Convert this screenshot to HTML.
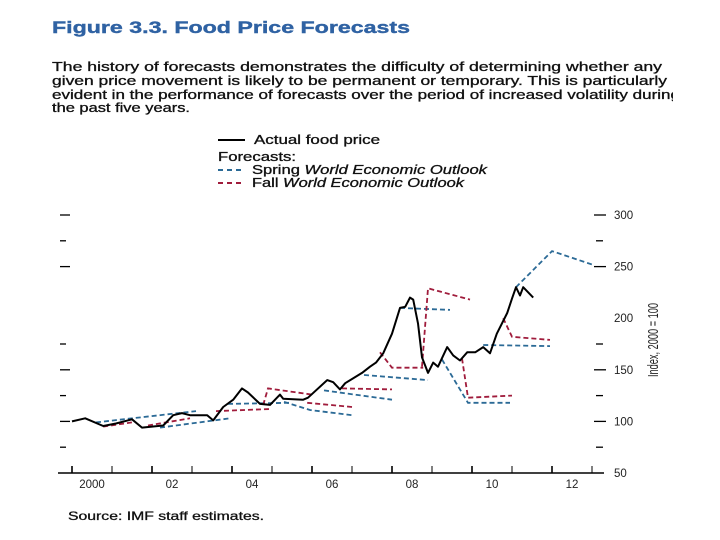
<!DOCTYPE html>
<html><head><meta charset="utf-8"><style>
html,body{margin:0;padding:0;background:#fff;width:720px;height:540px;overflow:hidden}
svg{display:block;font-family:"Liberation Sans",sans-serif}
</style></head><body>
<svg id="c" width="720" height="540">
<defs><clipPath id="clipTxt"><rect x="0" y="0" width="673" height="540"/></clipPath></defs>
<text x="52" y="33" font-size="17" font-weight="bold" fill="#2f62a3" stroke="#2f62a3" stroke-width="0.4" textLength="358" lengthAdjust="spacingAndGlyphs">Figure 3.3.  Food Price Forecasts</text>
<g font-size="12.5" fill="#111" stroke="#111" stroke-width="0.3" clip-path="url(#clipTxt)">
<text x="52" y="71" textLength="610" lengthAdjust="spacingAndGlyphs">The history of forecasts demonstrates the difficulty of determining whether any</text>
<text x="52" y="85" textLength="615" lengthAdjust="spacingAndGlyphs">given price movement is likely to be permanent or temporary. This is particularly</text>
<text x="52" y="99" textLength="628" lengthAdjust="spacingAndGlyphs">evident in the performance of forecasts over the period of increased volatility during</text>
<text x="52" y="112" textLength="138" lengthAdjust="spacingAndGlyphs">the past five years.</text>
</g>
<g font-size="12.5" fill="#111">
<line x1="218" y1="140" x2="245" y2="140" stroke="#000" stroke-width="2"/>
<text x="254" y="144" stroke="#111" stroke-width="0.3" textLength="126" lengthAdjust="spacingAndGlyphs">Actual food price</text>
<text x="218" y="161" stroke="#111" stroke-width="0.3" textLength="78" lengthAdjust="spacingAndGlyphs">Forecasts:</text>
<line x1="218" y1="170" x2="245" y2="170" stroke="#2b6a96" stroke-width="2" stroke-dasharray="5,4"/>
<text x="252" y="174" stroke="#111" stroke-width="0.3" textLength="235" lengthAdjust="spacingAndGlyphs">Spring <tspan font-style="italic">World Economic Outlook</tspan></text>
<line x1="218" y1="183" x2="245" y2="183" stroke="#a01c3c" stroke-width="2" stroke-dasharray="5,4"/>
<text x="252" y="187" stroke="#111" stroke-width="0.3" textLength="212" lengthAdjust="spacingAndGlyphs">Fall <tspan font-style="italic">World Economic Outlook</tspan></text>
</g>
<g id="axes"></g>
<g id="series"></g>
<text transform="translate(658,340) rotate(-90)" text-anchor="middle" font-size="15" fill="#222" textLength="74" lengthAdjust="spacingAndGlyphs">Index, 2000 = 100</text>
<text x="68" y="520" font-size="12" fill="#111" stroke="#111" stroke-width="0.3" textLength="196" lengthAdjust="spacingAndGlyphs">Source: IMF staff estimates.</text>
</svg>
<script>
const yearLabels=["2000","02","04","06","08","10","12"];
const yTicks=[50,100,150,200,250,300];
const actual=[[2000.0,100],[2000.33,103],[2000.78,95.5],[2001.1,98],[2001.5,102],[2001.75,94],[2002.28,96],[2002.53,106],[2002.75,108],[2002.95,106],[2003.38,106],[2003.53,101],[2003.78,114],[2004.03,121],[2004.25,132],[2004.4,128],[2004.7,117],[2004.95,116],[2005.2,126],[2005.28,122],[2005.78,121],[2005.9,123],[2006.38,140],[2006.53,138],[2006.7,131],[2006.83,137],[2007.25,147],[2007.45,153],[2007.6,157],[2007.78,166],[2008.0,185],[2008.2,210],[2008.33,211],[2008.45,220],[2008.53,218],[2008.65,195],[2008.75,162],[2008.9,147],[2009.03,157],[2009.15,153],[2009.38,172],[2009.53,164],[2009.7,159],[2009.88,167],[2010.08,167],[2010.28,172],[2010.45,166],[2010.62,185],[2010.88,205],[2011.0,219],[2011.1,230],[2011.2,222],[2011.28,230],[2011.53,220]];
const springForecasts=[[[2000.6,99],[2003.1,110]],[[2002.2,94],[2003.95,103]],[[2003.9,117],[2005.45,118]],[[2005.3,119],[2005.95,111],[2007.0,106]],[[2006.3,130],[2008.0,121]],[[2007.3,145],[2008.9,140]],[[2008.2,210],[2009.45,208]],[[2009.25,160],[2009.9,118],[2010.95,118]],[[2010.28,174],[2011.95,173]],[[2011.1,230],[2012.0,265],[2013.0,252]]];
const fallForecasts=[[[2000.78,95],[2001.5,99]],[[2001.9,96],[2002.95,103]],[[2003.6,110],[2004.95,112]],[[2004.78,116],[2004.9,132],[2006.0,126]],[[2005.88,118],[2007.0,114]],[[2006.75,132],[2008.0,131]],[[2007.7,167],[2008.0,152],[2008.78,152]],[[2008.75,153],[2008.9,229],[2009.95,218]],[[2009.75,161],[2009.9,123],[2011.0,125]],[[2010.78,200],[2011.0,182],[2011.95,179]]];
const NS="http://www.w3.org/2000/svg";
const X=y=>72+40*(y-2000);
const Y=v=>473-(v-50)*1.032;
function mk(tag,attrs,parent){const e=document.createElementNS(NS,tag);for(const k in attrs)e.setAttribute(k,attrs[k]);parent.appendChild(e);return e;}
const ax=document.getElementById('axes');
const xl=mk('line',{x1:58,y1:473,x2:604,y2:473,stroke:'#000','stroke-width':1.5},ax);


for(let i=0;i<=13;i++){const t=mk('line',{x1:X(2000+i),y1:466,x2:X(2000+i),y2:473,stroke:'#000','stroke-width':i%2==0?1.6:1},ax);

}
yearLabels.forEach((s,i)=>{const t=mk('text',{x:X(2000+2*i)+20,y:488,'text-anchor':'middle','font-size':11.5,fill:'#222'},ax);t.textContent=s;

});
const leftMinor=[75,100,125,150,175,250,275,300];
leftMinor.forEach(v=>{const w=(v%50==0)?10:6;const t=mk('line',{x1:60,y1:Y(v),x2:60+w,y2:Y(v),stroke:'#000','stroke-width':1.3},ax);

});
const rightMinor=[75,125,175,275];
rightMinor.forEach(v=>{const t=mk('line',{x1:596,y1:Y(v),x2:603,y2:Y(v),stroke:'#000','stroke-width':1.3},ax);

});
yTicks.forEach(v=>{if(v!=200&&v!=50){const t=mk('line',{x1:594,y1:Y(v),x2:606,y2:Y(v),stroke:'#000','stroke-width':1.3},ax);

}
const l=mk('text',{x:614,y:Y(v)+4,'font-size':11.5,fill:'#222'},ax);l.textContent=String(v);

});
const sg=document.getElementById('series');
const pts=a=>a.map(p=>X(p[0]).toFixed(1)+','+Y(p[1]).toFixed(1)).join(' ');
springForecasts.forEach(f=>{const e=mk('polyline',{points:pts(f),fill:'none',stroke:'#2b6a96','stroke-width':1.8,'stroke-dasharray':'5,3'},sg);

});
fallForecasts.forEach(f=>{const e=mk('polyline',{points:pts(f),fill:'none',stroke:'#a01c3c','stroke-width':1.8,'stroke-dasharray':'5,3'},sg);

});
const a=mk('polyline',{points:pts(actual),fill:'none',stroke:'#000','stroke-width':2,'stroke-linejoin':'round'},sg);


</script>
</body></html>
